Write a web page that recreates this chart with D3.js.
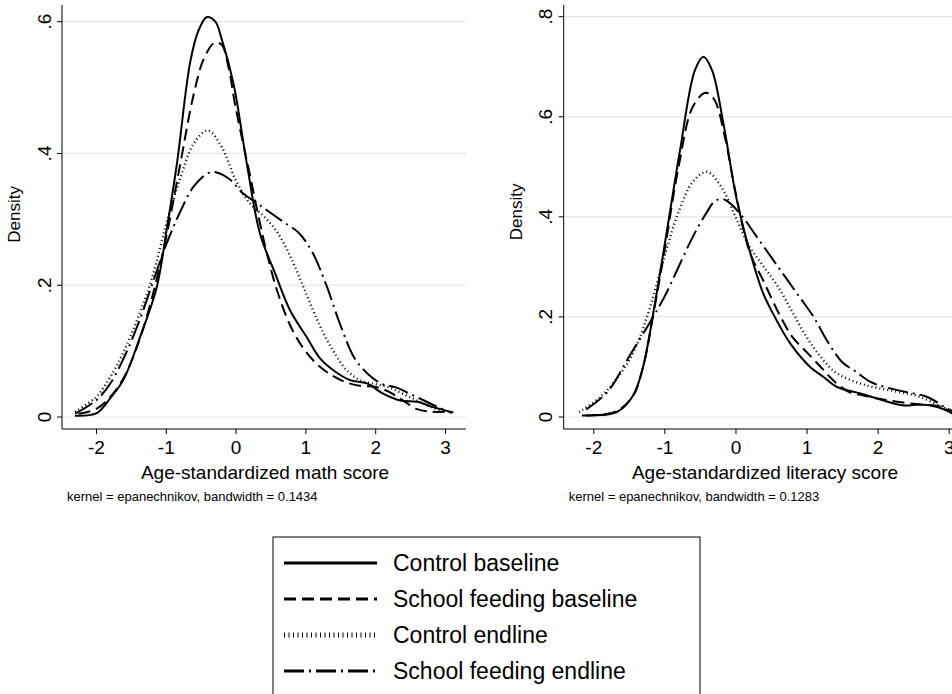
<!DOCTYPE html>
<html>
<head>
<meta charset="utf-8">
<script src="https://cdn.jsdelivr.net/npm/d3@7"></script>
<style>
  body { margin: 0; background: #fff; }
  text { font-family: "Liberation Sans", Arial, sans-serif; fill: #000; }
</style>
</head>
<body>
<svg id="chart" width="952" height="694"></svg>
<script>
// series labels and styles
const seriesNames = ["Control baseline", "School feeding baseline", "Control endline", "School feeding endline"];
const dashes = [null, "12,6", "1,3", "20,5,2,5"];

// math score densities
const mathControlBase = [[-2.30,0.002],[-1.99,0.006],[-1.80,0.028],[-1.61,0.056],[-1.37,0.121],[-1.13,0.197],[-0.99,0.283],[-0.84,0.385],[-0.65,0.539],[-0.53,0.587],[-0.41,0.607],[-0.29,0.600],[-0.20,0.574],[-0.03,0.506],[0.16,0.385],[0.35,0.278],[0.57,0.217],[0.78,0.162],[1.02,0.121],[1.21,0.089],[1.40,0.071],[1.64,0.056],[1.88,0.051],[2.12,0.035],[2.36,0.025],[2.60,0.023],[2.83,0.015],[3.12,0.007]];
const mathFeedBase = [[-2.25,0.005],[-2.0,0.012],[-1.8,0.03],[-1.6,0.06],[-1.4,0.11],[-1.2,0.18],[-1.0,0.27],[-0.8,0.38],[-0.6,0.49],[-0.45,0.545],[-0.3,0.568],[-0.2,0.565],[-0.1,0.53],[0.0,0.47],[0.2,0.37],[0.4,0.27],[0.6,0.19],[0.8,0.135],[1.0,0.1],[1.2,0.077],[1.4,0.062],[1.6,0.052],[1.8,0.047],[2.0,0.046],[2.2,0.038],[2.4,0.025],[2.6,0.012],[2.8,0.008],[3.0,0.008]];
const mathControlEnd = [[-2.3,0.008],[-2.0,0.03],[-1.8,0.06],[-1.6,0.1],[-1.4,0.15],[-1.2,0.21],[-1.0,0.29],[-0.8,0.36],[-0.6,0.415],[-0.4,0.435],[-0.2,0.41],[0.0,0.36],[0.2,0.325],[0.4,0.305],[0.6,0.28],[0.8,0.24],[1.0,0.19],[1.2,0.14],[1.4,0.1],[1.6,0.07],[1.8,0.055],[2.0,0.05],[2.2,0.045],[2.4,0.035],[2.6,0.025],[2.8,0.015],[3.0,0.008]];
const mathFeedEnd = [[-2.3,0.005],[-2.0,0.025],[-1.8,0.05],[-1.6,0.09],[-1.4,0.14],[-1.2,0.2],[-1.0,0.26],[-0.8,0.31],[-0.6,0.35],[-0.4,0.37],[-0.3,0.372],[-0.1,0.362],[0.1,0.34],[0.3,0.325],[0.5,0.31],[0.7,0.295],[0.9,0.28],[1.1,0.25],[1.3,0.2],[1.5,0.14],[1.7,0.09],[1.9,0.065],[2.1,0.05],[2.3,0.045],[2.5,0.035],[2.7,0.025],[2.9,0.015],[3.1,0.006]];

// literacy score densities
const litControlBase = [[-2.16,0.003],[-1.67,0.01],[-1.44,0.043],[-1.30,0.1],[-1.15,0.213],[-0.97,0.367],[-0.78,0.533],[-0.57,0.693],[-0.45,0.72],[-0.33,0.693],[-0.17,0.587],[0.02,0.433],[0.21,0.327],[0.39,0.247],[0.58,0.193],[0.77,0.147],[1.05,0.1],[1.24,0.08],[1.43,0.06],[1.76,0.047],[1.99,0.037],[2.37,0.023],[2.60,0.025],[2.84,0.02],[3.06,0.007]];
const litFeedBase = [[-2.1,0.003],[-1.7,0.01],[-1.45,0.04],[-1.3,0.1],[-1.15,0.21],[-1.0,0.33],[-0.8,0.5],[-0.6,0.62],[-0.42,0.648],[-0.3,0.635],[-0.15,0.56],[0.0,0.45],[0.2,0.33],[0.4,0.27],[0.6,0.21],[0.8,0.16],[1.0,0.13],[1.2,0.1],[1.4,0.07],[1.6,0.05],[1.8,0.043],[2.0,0.037],[2.3,0.03],[2.6,0.025],[2.9,0.02],[3.05,0.007]];
const litControlEnd = [[-2.2,0.01],[-1.9,0.04],[-1.6,0.09],[-1.4,0.14],[-1.2,0.22],[-1.0,0.32],[-0.8,0.41],[-0.6,0.47],[-0.4,0.49],[-0.2,0.46],[0.0,0.4],[0.2,0.34],[0.4,0.3],[0.6,0.26],[0.8,0.21],[1.0,0.16],[1.2,0.12],[1.4,0.09],[1.6,0.075],[1.8,0.065],[2.0,0.058],[2.3,0.05],[2.6,0.04],[2.9,0.02],[3.1,0.01]];
const litFeedEnd = [[-2.1,0.015],[-1.8,0.05],[-1.5,0.12],[-1.2,0.19],[-1.0,0.24],[-0.8,0.3],[-0.6,0.36],[-0.4,0.41],[-0.3,0.43],[-0.2,0.436],[-0.1,0.43],[0.1,0.4],[0.3,0.36],[0.5,0.32],[0.7,0.28],[0.9,0.24],[1.1,0.2],[1.3,0.15],[1.5,0.11],[1.7,0.09],[1.9,0.07],[2.1,0.06],[2.4,0.05],[2.7,0.04],[3.0,0.015],[3.1,0.01]];

const xTicks = [-2, -1, 0, 1, 2, 3];
const mathYTicks = [0, 0.2, 0.4, 0.6];
const litYTicks = [0, 0.2, 0.4, 0.6, 0.8];

const svg = d3.select("#chart");

function panel(opts) {
  const x = d3.scaleLinear().domain([-2, 3]).range(opts.xr);
  const y = d3.scaleLinear().domain([0, opts.ymax]).range([417, opts.ytop]);
  const g = svg.append("g");
  const left = opts.left, right = left + 404;

  // gridlines
  g.selectAll(".grid").data(opts.yTicks).join("line")
    .attr("x1", left).attr("x2", right)
    .attr("y1", d => y(d)).attr("y2", d => y(d))
    .attr("stroke", "#e6e6e6").attr("stroke-width", 1.2);

  // y axis
  const ya = g.append("g").attr("transform", `translate(${left},0)`)
    .call(d3.axisLeft(y).tickValues(opts.yTicks).tickSize(5)
      .tickFormat(d => d === 0 ? "0" : d3.format(".1f")(d).replace("0.", ".")));
  ya.select(".domain").attr("d", `M0,5V429`);
  ya.selectAll("text").attr("font-size", 19).attr("x", 0).attr("text-anchor", "middle")
    .attr("transform", d => `translate(-18,${y(d)}) rotate(-90)`).attr("y", 0).attr("dy", "0.35em");
  ya.selectAll(".tick").attr("transform", "translate(0,0)");
  ya.selectAll(".tick line").attr("y1", d => y(d)).attr("y2", d => y(d));

  // x axis
  const xa = g.append("g").attr("transform", "translate(0,429)")
    .call(d3.axisBottom(x).tickValues(xTicks).tickSize(5).tickFormat(d => String(d)));
  xa.select(".domain").attr("d", `M${left},0H${right}`);
  xa.selectAll("text").attr("font-size", 19).attr("dy", "0.9em");

  g.append("text").attr("x", opts.titleX).attr("y", 479).attr("text-anchor", "middle")
    .attr("font-size", 19).text(opts.xTitle);
  g.append("text").attr("x", left + 5).attr("y", 501).attr("font-size", 13).text(opts.note);
  g.append("text").attr("transform", `translate(${left - 42},${y(opts.ymax / 2) - 5}) rotate(-90)`)
    .attr("text-anchor", "middle").attr("font-size", 17).text("Density");

  const line = d3.line().x(d => x(d[0])).y(d => y(d[1])).curve(d3.curveCatmullRom);
  opts.series.forEach((s, i) => {
    g.append("path").attr("d", line(s)).attr("fill", "none").attr("stroke", "#000")
      .attr("stroke-width", i === 2 ? 2.4 : 2).attr("stroke-dasharray", dashes[i]);
  });
}

panel({ left: 62, xr: [96, 445], ymax: 0.6, ytop: 21.7, yTicks: mathYTicks, titleX: 265,
  xTitle: "Age-standardized math score", note: "kernel = epanechnikov, bandwidth = 0.1434",
  series: [mathControlBase, mathFeedBase, mathControlEnd, mathFeedEnd] });
panel({ left: 563.7, xr: [593.3, 948.7], ymax: 0.8, ytop: 16.7, yTicks: litYTicks, titleX: 765,
  xTitle: "Age-standardized literacy score", note: "kernel = epanechnikov, bandwidth = 0.1283",
  series: [litControlBase, litFeedBase, litControlEnd, litFeedEnd] });

// legend
const lg = svg.append("g");
lg.append("rect").attr("x", 273).attr("y", 537).attr("width", 427).attr("height", 170)
  .attr("fill", "#fff").attr("stroke", "#000").attr("stroke-width", 1);
const rowY = d3.scalePoint().domain(seriesNames).range([563, 671]);
seriesNames.forEach((n, i) => {
  lg.append("line").attr("x1", 284).attr("x2", 377).attr("y1", rowY(n)).attr("y2", rowY(n))
    .attr("stroke", "#000").attr("stroke-width", i === 2 ? 5 : 3).attr("stroke-dasharray", i === 2 ? "1,3.5" : dashes[i]);
  lg.append("text").attr("x", 393).attr("y", rowY(n)).attr("dy", "0.35em").attr("font-size", 23).text(n);
});
</script>
</body>
</html>
